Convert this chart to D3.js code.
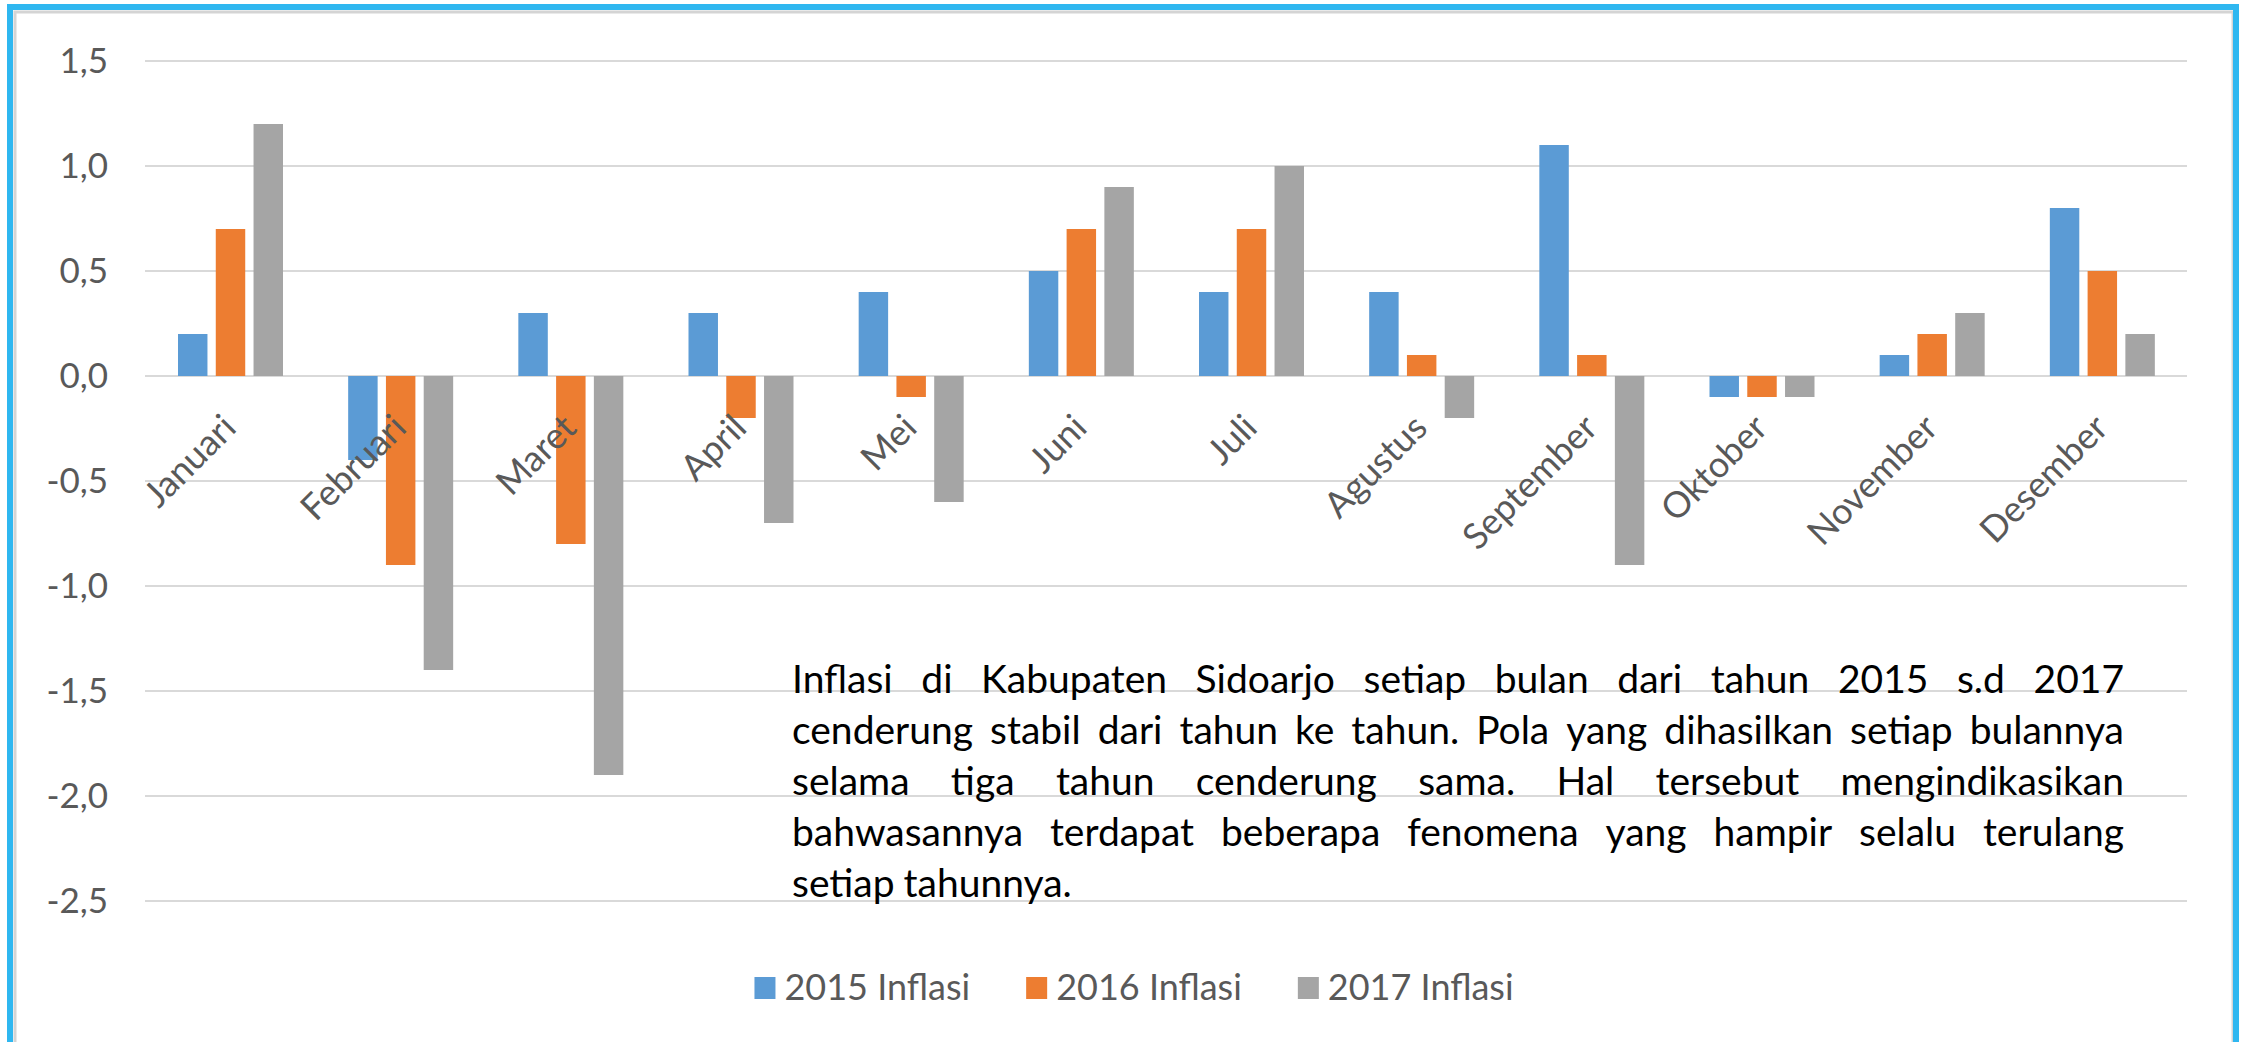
<!DOCTYPE html>
<html lang="en">
<head>
<meta charset="UTF-8">
<title>Inflasi Kabupaten Sidoarjo 2015-2017</title>
<style>
  body { margin: 0; background: #fff; }
  svg { display: block; }
  text { font-family: Lato, "Open Sans", sans-serif; }
</style>
</head>
<body>
<svg id="chart" width="2241" height="1042"></svg>
<script src="https://d3js.org/d3.v7.min.js"></script>
<script>
// data
const months = ["Januari", "Februari", "Maret", "April", "Mei", "Juni", "Juli",
  "Agustus", "September", "Oktober", "November", "Desember"];
const seriesNames = ["2015 Inflasi", "2016 Inflasi", "2017 Inflasi"];
const inflasi2015 = [0.2, -0.4, 0.3, 0.3, 0.4, 0.5, 0.4, 0.4, 1.1, -0.1, 0.1, 0.8];
const inflasi2016 = [0.7, -0.9, -0.8, -0.2, -0.1, 0.7, 0.7, 0.1, 0.1, -0.1, 0.2, 0.5];
const inflasi2017 = [1.2, -1.4, -1.9, -0.7, -0.6, 0.9, 1.0, -0.2, -0.9, -0.1, 0.3, 0.2];
const yTicks = [1.5, 1.0, 0.5, 0.0, -0.5, -1.0, -1.5, -2.0, -2.5];
const colors = ["#5B9BD5", "#ED7D31", "#A5A5A5"];
const noteLines = [
  "Inflasi di Kabupaten Sidoarjo setiap bulan dari tahun 2015 s.d 2017",
  "cenderung stabil dari tahun ke tahun. Pola yang dihasilkan setiap bulannya",
  "selama tiga tahun cenderung sama. Hal tersebut mengindikasikan",
  "bahwasannya terdapat beberapa fenomena yang hampir selalu terulang",
  "setiap tahunnya."
];

const allSeries = [inflasi2015, inflasi2016, inflasi2017];
const rows = months.map((m, i) => ({ month: m, values: allSeries.map((s, k) => ({ key: k, v: s[i] })) }));

const svg = d3.select("#chart");
svg.append("rect").attr("width", 2241).attr("height", 1042).attr("fill", "#fff");

// frame
svg.append("rect")
  .attr("x", 15).attr("y", 12).attr("width", 2218).attr("height", 1100)
  .attr("fill", "none").attr("stroke", "#d4d4d4").attr("stroke-width", 3);
svg.append("rect")
  .attr("x", 10).attr("y", 7).attr("width", 2226).attr("height", 1100)
  .attr("fill", "none").attr("stroke", "#2fb7f0").attr("stroke-width", 6);

const left = 145, right = 2187;
const y = d3.scaleLinear().domain([-2.5, 1.5]).range([901, 61]);
const x0 = d3.scaleBand().domain(months).range([left, right]);
const x1 = d3.scaleBand().domain([0, 1, 2]).range([33, 138]).paddingInner(0.22);

// gridlines
svg.append("g")
  .selectAll("line")
  .data(yTicks)
  .join("line")
  .attr("x1", left).attr("x2", right)
  .attr("y1", d => y(d)).attr("y2", d => y(d))
  .attr("stroke", "#d9d9d9").attr("stroke-width", 2);

// y axis labels
svg.append("g")
  .selectAll("text")
  .data(yTicks)
  .join("text")
  .attr("x", 108)
  .attr("y", d => y(d))
  .attr("dy", "0.35em")
  .attr("text-anchor", "end")
  .attr("fill", "#595959")
  .style("font-size", "35px")
  .text(d => d3.format(".1f")(d).replace(".", ",").replace("−", "-"));

// bars
const groups = svg.append("g")
  .selectAll("g")
  .data(rows)
  .join("g")
  .attr("transform", d => `translate(${x0(d.month)},0)`);

groups.selectAll("rect")
  .data(d => d.values)
  .join("rect")
  .attr("x", d => x1(d.key))
  .attr("width", x1.bandwidth())
  .attr("y", d => y(Math.max(0, d.v)))
  .attr("height", d => Math.abs(y(d.v) - y(0)))
  .attr("fill", d => colors[d.key]);

// category labels, rotated
svg.append("g")
  .selectAll("text")
  .data(months)
  .join("text")
  .attr("transform", d => `translate(${x0(d) + x0.bandwidth() / 2 + 8},${y(0) + 54}) rotate(-45)`)
  .attr("text-anchor", "end")
  .attr("fill", "#595959")
  .style("font-size", "36px")
  .text(d => d);

// note paragraph, justified
const note = svg.append("g");
const noteLeft = 792, noteRight = 2124, noteTop = 693, lineGap = 51;
noteLines.forEach((line, li) => {
  const words = line.split(" ");
  const yy = noteTop + li * lineGap;
  const ts = words.map(w => note.append("text")
    .attr("y", yy).attr("fill", "#000").style("font-size", "39px").text(w));
  const widths = ts.map(t => t.node().getComputedTextLength());
  const total = d3.sum(widths);
  const last = li === noteLines.length - 1;
  const gap = last ? 9 : (noteRight - noteLeft - total) / (words.length - 1);
  let cx = noteLeft;
  ts.forEach((t, i) => { t.attr("x", cx); cx += widths[i] + gap; });
});

// legend
const legend = svg.append("g");
let lx = 0;
seriesNames.forEach((name, i) => {
  const g = legend.append("g").attr("transform", `translate(${lx},0)`);
  g.append("rect").attr("x", 0).attr("y", 977).attr("width", 21).attr("height", 22).attr("fill", colors[i]);
  const t = g.append("text").attr("x", 30).attr("y", 1000).attr("fill", "#595959")
    .style("font-size", "36px").text(name);
  lx += 30 + t.node().getComputedTextLength() + 56;
});
const legendWidth = lx - 56;
legend.attr("transform", `translate(${1134 - legendWidth / 2},0)`);
</script>
</body>
</html>
